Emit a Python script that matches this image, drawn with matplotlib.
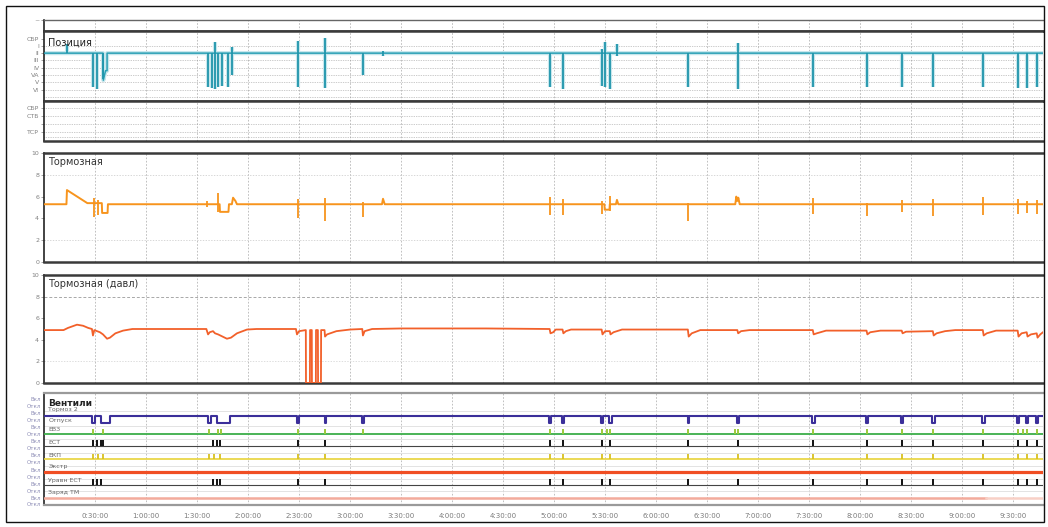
import matplotlib
matplotlib.use('Agg')
import matplotlib.pyplot as plt
from matplotlib.patches import Rectangle

# ---------------- data (time in minutes) ----------------
T_MAX = 587.6
tick_min = [30, 60, 90, 120, 150, 180, 210, 240, 270, 300, 330, 360, 390, 420, 450, 480, 510, 540, 570]
tick_lbl = ['0:30:00', '1:00:00', '1:30:00', '2:00:00', '2:30:00', '3:00:00', '3:30:00', '4:00:00',
            '4:30:00', '5:00:00', '5:30:00', '6:00:00', '6:30:00', '7:00:00', '7:30:00', '8:00:00',
            '8:30:00', '9:00:00', '9:30:00']

# Позиция (levels 0..7)
pos_levels = [7, 6, 5, 4, 3, 2, 1, 0]
pos_labels = ['СБР', 'I', 'II', 'III', 'IV', 'VА', 'V', 'VI']
pos_base_t = [0, 34.7, 34.9, 36.2, 37.1, 37.1, 587.6]
pos_base_v = [5, 5, 1.3, 2.6, 2.6, 5, 5]
pos_spk_t = [13.5, 28.8, 31.2, 34.7, 96.5, 98.8, 100.6, 102.4, 104.7, 108.2, 110.6, 149.4, 165.3, 187.6,
             199.4, 297.6, 305.3, 328.2, 330.0, 332.9, 337.0, 378.9, 408.2, 452.4, 484.0, 504.7, 523.0,
             552.4, 572.9, 578.2, 584.1]
pos_spk_hi = [6.2, 5, 5, 5, 5, 5, 6.5, 5, 5, 5, 5.8, 6.6, 7.1, 5, 5.3, 5, 5, 5.6, 6.5, 5, 6.2, 5, 6.4,
              5, 5, 5, 5, 5, 5, 5, 5]
pos_spk_lo = [5, 0.3, 0.1, 1.5, 0.3, 0.2, 0.1, 0.3, 0.5, 0.3, 2.0, 0.3, 0.2, 2.0, 4.6, 0.4, 0.1, 0.5,
              0.3, 0.1, 4.6, 0.3, 0.1, 0.3, 0.3, 0.3, 0.3, 0.3, 0.2, 0.2, 0.3]

# second position panel
pos2_levels = [3, 2, 1, 0]
pos2_labels = ['СБР', 'СТБ', '', 'ТСР']

# Тормозная
tor_base_t = [0, 13.2, 13.5, 25.5, 34.0, 34.2, 37.4, 37.6, 103.3, 103.5, 108.5, 108.8, 110.5, 111.2,
              112.6, 113.5, 198.8, 199.4, 200.4, 329.6, 329.8, 332.6, 332.8, 336.4, 337.0, 337.8,
              406.6, 407.2, 407.8, 408.4, 409.2, 587.6]
tor_base_v = [5.3, 5.3, 6.6, 5.4, 5.4, 4.5, 4.5, 5.3, 5.3, 4.6, 4.6, 5.3, 5.3, 5.9, 5.6, 5.3, 5.3, 5.8,
              5.3, 5.3, 4.8, 4.8, 5.3, 5.3, 5.7, 5.3, 5.3, 6.0, 5.6, 5.9, 5.3, 5.3]
tor_spk_t = [29.4, 31.8, 95.9, 102.2, 149.4, 165.3, 187.6, 297.6, 305.3, 328.2, 333.0, 378.9, 452.4,
             484.0, 504.7, 523.0, 552.4, 572.9, 578.2, 584.1]
tor_spk_hi = [5.9, 5.7, 5.6, 6.3, 5.8, 5.9, 5.5, 6.0, 5.8, 5.6, 6.1, 5.4, 5.9, 5.4, 5.7, 5.8, 6.0, 5.8,
              5.6, 5.7]
tor_spk_lo = [4.1, 4.3, 5.0, 4.6, 4.0, 3.8, 4.1, 4.3, 4.3, 4.4, 4.7, 3.8, 4.4, 4.2, 4.6, 4.2, 4.3, 4.4,
              4.5, 4.4]

# Тормозная (давл)
dav_t = [0, 11.5, 14.1, 19.4, 23, 26, 28.2, 28.8, 29.6, 31.2, 32.9, 34.7, 37.1, 38.8, 42, 46.5, 52,
         95.5, 96.5, 97.5, 99.4, 100.6, 102.4, 105, 107.6, 110, 113.5, 119.4, 125,
         148.2, 148.8, 150, 154.0, 154.1, 156.4, 156.5, 157.5, 157.6, 159.9, 160.0, 161.1, 161.2, 162.9,
         163.0, 165.0, 165.3, 166.5, 172, 180, 187.2, 187.6, 188.6, 193, 210, 260,
         297.4, 297.9, 299.5, 301, 305.0, 305.5, 307, 310, 328.0, 328.5, 330, 332.8, 333.2, 335, 340,
         378.7, 379.2, 381, 386, 407.8, 408.3, 410, 415, 452.2, 452.7, 454.5, 460, 483.8, 484.3, 486,
         492, 504.5, 505.0, 507, 522.8, 523.3, 525, 530, 536, 552.2, 552.7, 554.5, 560, 572.7, 573.2,
         575, 578.0, 578.5, 580.5, 583.9, 584.4, 586, 587.6]
dav_v = [4.9, 4.9, 5.1, 5.4, 5.3, 5.1, 5.0, 4.4, 4.9, 4.8, 4.7, 4.5, 4.1, 4.2, 4.6, 4.85, 5.0,
         5.0, 4.5, 4.7, 4.8, 4.6, 4.5, 4.3, 4.1, 4.2, 4.6, 4.95, 5.0,
         5.0, 4.5, 4.8, 4.9, 0, 0, 4.9, 4.9, 0, 0, 4.9, 4.9, 0, 0,
         4.9, 4.9, 4.3, 4.5, 4.8, 4.95, 5.0, 4.4, 4.8, 5.0, 5.05, 5.05,
         5.0, 4.6, 4.7, 4.95, 4.95, 4.6, 4.8, 4.95, 4.95, 4.5, 4.8, 4.8, 4.5, 4.7, 4.95,
         4.95, 4.3, 4.6, 4.9, 4.9, 4.6, 4.8, 4.9, 4.9, 4.5, 4.6, 4.85, 4.85, 4.5, 4.7,
         4.85, 4.85, 4.6, 4.75, 4.8, 4.4, 4.6, 4.8, 4.9, 4.9, 4.4, 4.6, 4.85, 4.85, 4.3,
         4.6, 4.7, 4.3, 4.5, 4.6, 4.2, 4.5, 4.7]

# Вентили
vent_names = ['Тормоз 2', 'Отпуск', 'ЕВЗ', 'ЕСТ', 'ЕКП', 'Экстр', 'Уравн ЕСТ', 'Заряд ТМ']
vent_name_y = [6.9, 6.05, 5.3, 4.27, 3.3, 2.4, 1.37, 0.4]
vent_base = [7.0, 6.37, 5.0, 4.0, 3.0, 2.0, 1.0, 0.0]
otp_start = [28.2, 33.5, 96.2, 101.7, 148.8, 165.0, 187.2, 297.2, 304.8, 327.8, 332.6, 378.5, 407.8,
             452.0, 483.5, 504.2, 522.6, 552.0, 572.5, 577.8, 583.7]
otp_end = [29.8, 38.8, 98.0, 109.4, 149.8, 166.0, 188.2, 298.4, 306.0, 329.0, 333.8, 379.6, 409.0,
           453.2, 484.7, 505.4, 523.8, 553.2, 573.7, 579.0, 584.9]
otp_low = 5.8
evz_t = [29.0, 34.5, 97.0, 102.4, 104.0, 149.4, 165.3, 187.6, 297.6, 305.3, 328.2, 331.0, 333.0,
         378.9, 406.5, 408.2, 452.4, 484.0, 504.7, 523.0, 552.4, 572.9, 576.0, 578.2, 584.1]
est_t = [28.8, 31.2, 33.8, 34.7, 99.4, 102.0, 103.5, 149.4, 165.3, 297.6, 305.3, 328.2, 333.0, 378.9,
         408.2, 452.4, 484.0, 504.7, 523.0, 552.4, 572.9, 578.2, 584.1]
ekp_t = [28.8, 31.8, 34.7, 97.0, 100.0, 103.5, 149.4, 165.3, 297.6, 305.3, 328.2, 333.0, 378.9,
         408.2, 452.4, 484.0, 504.7, 523.0, 552.4, 572.9, 578.2, 584.1]
urv_t = [28.8, 31.2, 33.8, 99.4, 102.0, 103.5, 149.4, 165.3, 297.6, 305.3, 328.2, 333.0, 378.9,
         408.2, 452.4, 484.0, 504.7, 523.0, 552.4, 572.9, 578.2, 584.1]
zar_split = 554.0
vent_tick_vals = [7.7, 7.15, 6.6, 6.05, 5.5, 4.95, 4.4, 3.85, 3.3, 2.75, 2.2, 1.65, 1.1, 0.55, 0.0, -0.45]
vent_tick_lbl = ['Вкл', 'Откл', 'Вкл', 'Откл', 'Вкл', 'Откл', 'Вкл', 'Откл',
                 'Вкл', 'Откл', 'Вкл', 'Откл', 'Вкл', 'Откл', 'Вкл', 'Откл']

# ---------------- layout ----------------
W, H = 1048, 527
L, R = 44, 1043
fig = plt.figure(figsize=(W / 100, H / 100), dpi=100)
fig.patch.set_facecolor('white')


def add(top, bot):
    return fig.add_axes([L / W, 1 - bot / H, (R - L) / W, (bot - top) / H])


def style(ax, edge='#3a3a3a', elw=1.8):
    ax.set_xlim(0, T_MAX)
    ax.spines['right'].set_visible(False)
    for s in ['top', 'bottom']:
        ax.spines[s].set_linewidth(elw)
        ax.spines[s].set_color(edge)
    ax.spines['left'].set_linewidth(1.2)
    ax.spines['left'].set_color('#222')
    ax.set_xticks(tick_min)
    ax.tick_params(axis='x', length=0, labelbottom=False)
    ax.tick_params(axis='y', length=2, width=0.5, labelsize=4.5, labelcolor='#808080', pad=1.5,
                   colors='#808080')
    for t in tick_min:
        ax.axvline(t, color='#b5b5b5', lw=0.6, ls=(0, (2, 2)), zorder=0)


# top thin strip
ax0 = add(20, 31)
style(ax0)
ax0.spines['top'].set_linewidth(1.0)
ax0.spines['top'].set_color('#666')
ax0.set_ylim(0, 1)
ax0.set_yticks([1])
ax0.set_yticklabels(['~'])

# Позиция
ax1 = add(31, 101)
style(ax1)
ax1.set_ylim(-1.55, 8.03)
ax1.set_yticks(pos_levels)
ax1.set_yticklabels(pos_labels)
for lv in list(pos_levels[1:]) + [-1]:
    ax1.axhline(lv, color='#9a9a9a', lw=0.5, ls=(0, (1, 1.5)), zorder=0)
ax1.plot(pos_base_t, pos_base_v, color='#c6e6ec', lw=3.0, zorder=2)
ax1.plot(pos_base_t, pos_base_v, color='#2aa0b5', lw=1.1, zorder=3)
ax1.vlines(pos_spk_t, pos_spk_lo, pos_spk_hi, color='#c6e6ec', lw=3.0, zorder=2)
ax1.vlines(pos_spk_t, pos_spk_lo, pos_spk_hi, color='#1f95ab', lw=1.3, zorder=3)
ax1.text(0.004, 0.84, 'Позиция', transform=ax1.transAxes, fontsize=7, color='#222', va='center')

# second position panel
ax2 = add(101, 141)
style(ax2)
ax2.set_ylim(-1.17, 3.91)
ax2.set_yticks(pos2_levels)
ax2.set_yticklabels(pos2_labels)
for lv in pos2_levels + [-0.6]:
    ax2.axhline(lv, color='#9a9a9a', lw=0.5, ls=(0, (1, 1.5)), zorder=0)

# Тормозная
ax3 = add(153, 262)
style(ax3)
ax3.set_ylim(0, 10)
ax3.set_yticks([0, 2, 4, 6, 8, 10])
for lv in [2, 8]:
    ax3.axhline(lv, color='#c8c8c8', lw=0.5, ls=(0, (2, 2)), zorder=0)
ax3.plot(tor_base_t, tor_base_v, color='#f7941d', lw=1.4, zorder=3)
ax3.vlines(tor_spk_t, tor_spk_lo, tor_spk_hi, color='#f7941d', lw=1.3, zorder=3)
ax3.text(0.004, 0.915, 'Тормозная', transform=ax3.transAxes, fontsize=7, color='#333', va='center')

# Тормозная (давл)
ax4 = add(275, 383)
style(ax4)
ax4.set_ylim(0, 10)
ax4.set_yticks([0, 2, 4, 6, 8, 10])
ax4.axhline(8, color='#a8a8a8', lw=0.7, ls=(0, (3, 2)), zorder=0)
ax4.axhline(2, color='#d0d0d0', lw=0.5, ls=(0, (2, 2)), zorder=0)
ax4.plot(dav_t, dav_v, color='#f2602a', lw=1.3, zorder=3)
ax4.text(0.004, 0.915, 'Тормозная (давл)', transform=ax4.transAxes, fontsize=7, color='#333',
         va='center')

# Вентили
ax5 = add(393, 505)
style(ax5, edge='#9a9a9a', elw=1.6)
ax5.set_ylim(-0.56, 8.15)
ax5.set_yticks(vent_tick_vals)
ax5.set_yticklabels(vent_tick_lbl)
ax5.tick_params(axis='y', labelsize=4, labelcolor='#9090b8', length=0, pad=2)
for lv in [6.75, 5.6, 4.55, 3.5, 2.5, 1.5, 0.5]:
    ax5.axhline(lv, color='#dedede', lw=0.6, zorder=0)
ax5.text(0.004, 0.91, 'Вентили', transform=ax5.transAxes, fontsize=6.5, color='#222',
         fontweight='bold', va='center')
for nm, yy in zip(vent_names, vent_name_y):
    ax5.text(2.5, yy, nm, fontsize=4.5, color='#666', va='center', zorder=5)

# Отпуск (step signal built from intervals)
ot_x, ot_y = [0], [vent_base[1]]
for s, e in zip(otp_start, otp_end):
    ot_x += [s, s, e, e]
    ot_y += [vent_base[1], otp_low, otp_low, vent_base[1]]
ot_x.append(T_MAX)
ot_y.append(vent_base[1])
ax5.plot(ot_x, ot_y, color='#3b2f9a', lw=1.5, zorder=3)

# ЕВЗ
ax5.axhline(vent_base[2], color='#3cae49', lw=1.3, zorder=3)
ax5.vlines(evz_t, vent_base[2], vent_base[2] + 0.35, color='#9cc93a', lw=1.4, zorder=3)
# ЕСТ
ax5.axhline(vent_base[3], color='#444', lw=0.8, zorder=3)
ax5.vlines(est_t, vent_base[3], vent_base[3] + 0.5, color='#111', lw=1.4, zorder=3)
# ЕКП
ax5.axhline(vent_base[4], color='#e8d33a', lw=1.2, zorder=3)
ax5.vlines(ekp_t, vent_base[4], vent_base[4] + 0.4, color='#d8c020', lw=1.3, zorder=3)
# Экстр
ax5.axhline(vent_base[5], color='#f04e23', lw=2.3, zorder=3)
# Уравн ЕСТ
ax5.axhline(vent_base[6], color='#444', lw=0.8, zorder=3)
ax5.vlines(urv_t, vent_base[6], vent_base[6] + 0.5, color='#111', lw=1.4, zorder=3)
# Заряд ТМ
ax5.plot([0, zar_split], [vent_base[7], vent_base[7]], color='#f3ab9c', lw=1.8, zorder=3)
ax5.plot([zar_split, T_MAX], [vent_base[7], vent_base[7]], color='#f8d0c6', lw=1.8, zorder=3)

ax5.tick_params(axis='x', labelbottom=True, labelsize=5, labelcolor='#7a7a7a', pad=6)
ax5.set_xticklabels(tick_lbl)

# outer frame
fig.add_artist(Rectangle((6 / W, 1 - 522 / H), (1044 - 6) / W, (522 - 6) / H, transform=fig.transFigure,
                         fill=False, edgecolor='#111', lw=1.0))

fig.savefig('out.png', dpi=100, facecolor='white')
